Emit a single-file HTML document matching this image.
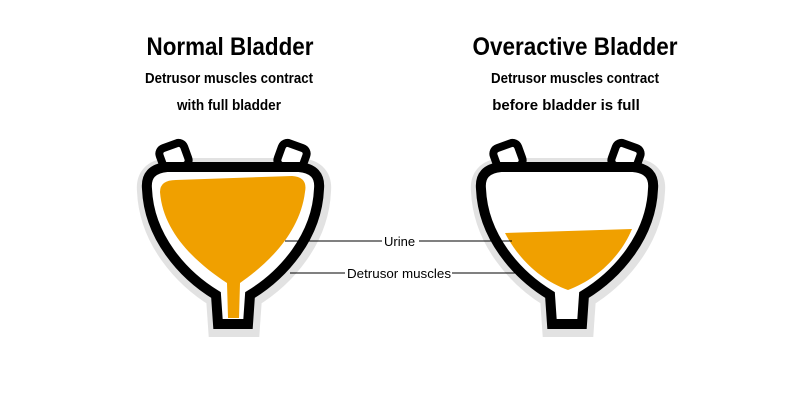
<!DOCTYPE html>
<html><head><style>body{margin:0;background:#fff}svg{display:block}</style></head><body>
<svg width="800" height="400" viewBox="0 0 800 400" xmlns="http://www.w3.org/2000/svg" font-family="'Liberation Sans Narrow','Liberation Sans',sans-serif">
<defs>
<path id="bp" d="M-86,22 Q-88,2 -66,0 L66,0 Q88,2 86,22 C84,70 50,108 17,128 L15,157 L-15,157 L-17,128 C-50,108 -84,70 -86,22 Z"/>
<g id="bl">
  <use href="#bp" fill="none" stroke="#e2e2e2" stroke-width="22" transform="translate(1,2)"/>
  <rect x="-72" y="-22" width="26" height="24" rx="6" fill="#fff" stroke="#000" stroke-width="8" transform="rotate(-20 -59 -10)"/>
  <rect x="46" y="-22" width="26" height="24" rx="6" fill="#fff" stroke="#000" stroke-width="8" transform="rotate(20 59 -10)"/>
  <use href="#bp" fill="#fff" stroke="#000" stroke-width="10"/>
</g>
</defs>
<g font-weight="bold" fill="#000" text-anchor="middle">
<text x="230" y="55" font-size="25" textLength="167" lengthAdjust="spacingAndGlyphs">Normal Bladder</text>
<text x="229" y="83" font-size="15" textLength="168" lengthAdjust="spacingAndGlyphs">Detrusor muscles contract</text>
<text x="229" y="110" font-size="15" textLength="104" lengthAdjust="spacingAndGlyphs">with full bladder</text>
<text x="575" y="55" font-size="25" textLength="205" lengthAdjust="spacingAndGlyphs">Overactive Bladder</text>
<text x="575" y="83" font-size="15" textLength="168" lengthAdjust="spacingAndGlyphs">Detrusor muscles contract</text>
<text x="566" y="110" font-size="15">before bladder is full</text>
</g>
<use href="#bl" transform="translate(233,167)"/>
<use href="#bl" transform="translate(567,167)"/>
<path d="M160,192 Q160,180 176,180 L292,176 Q308,177 305,192 C300,232 270,262 240,283 L239,318 L228,318 L227,283 C195,262 163,232 160,192 Z" fill="#f0a000"/>
<path d="M505,233 L632,229 C620,258 595,280 568,290 C540,280 518,258 505,233 Z" fill="#f0a000"/>
<g stroke="#000" stroke-width="1">
<line x1="285" y1="241" x2="382" y2="241"/><line x1="419" y1="241" x2="512" y2="241"/>
<line x1="290" y1="273" x2="345" y2="273"/><line x1="452" y1="273" x2="515" y2="273"/>
</g>
<g font-family="'Liberation Sans',sans-serif" font-size="13" fill="#000">
<text x="384" y="246">Urine</text>
<text x="347" y="278" textLength="104" lengthAdjust="spacingAndGlyphs">Detrusor muscles</text>
</g>
</svg>
</body></html>
